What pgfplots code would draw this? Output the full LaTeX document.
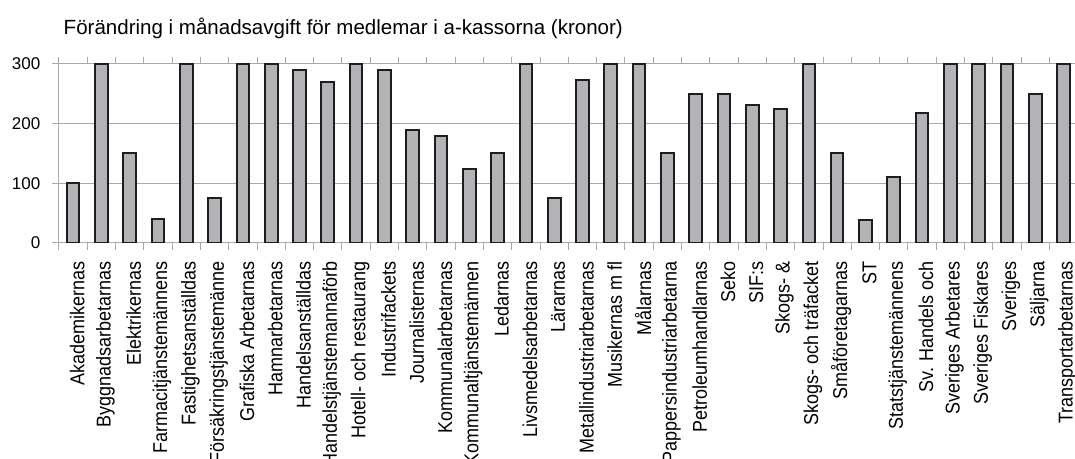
\documentclass[border=0pt]{standalone}
\usepackage{fontspec}
\setmainfont{Liberation Sans}
\newfontfamily\narrowsans[FakeStretch=0.9]{Liberation Sans}
\usepackage{pgfplots}
\pgfplotsset{compat=1.18}
\definecolor{barfill}{RGB}{178,179,183}
\definecolor{baredge}{RGB}{30,30,30}
\definecolor{gridgray}{RGB}{170,170,170}

\pgfplotstableread{
x y
0 100
1 300
2 150
3 40
4 300
5 75
6 300
7 300
8 290
9 270
10 300
11 290
12 189
13 180
14 124
15 150
16 300
17 75
18 274
19 300
20 300
21 150
22 250
23 250
24 231
25 225
26 300
27 150
28 39
29 111
30 218
31 300
32 300
33 300
34 250
35 300
}\avgift

\begin{document}
\begin{tikzpicture}
\begin{axis}[
  at={(0pt,0pt)}, anchor=south west,
  scale only axis, width=764pt, height=134.25pt,
  ymin=0, ymax=300, xmin=-0.5, xmax=35.5,
  ytick={0,100,200,300},
  ymajorgrids,
  grid style={gridgray, line width=0.75pt},
  axis line style={gridgray, line width=0.75pt},
  tick align=outside,
  major tick length=5pt,
  minor tick length=5pt,
  tick style={gridgray, line width=0.75pt},
  major x tick style={draw=none},
  xtick={0,...,35},
  minor xtick={-0.5,0.5,...,35.5},
  xticklabels={Akademikernas, Byggnadsarbetarnas, Elektrikernas,
    Farmacitjänstemännens, Fastighetsanställdas, Försäkringstjänstemänne,
    Grafiska Arbetarnas, Hamnarbetarnas, Handelsanställdas,
    Handelstjänstemannaförb, Hotell- och restaurang, Industrifackets,
    Journalisternas, Kommunalarbetarnas, Kommunaltjänstemännen, Ledarnas,
    Livsmedelsarbetarnas, Lärarnas, Metallindustriarbetarnas,
    Musikernas m fl, Målarnas, Pappersindustriarbetarna,
    Petroleumhandlarnas, Seko, SIF:s, Skogs- \&, Skogs- och träfacket,
    Småföretagarnas, ST, Statstjänstemännens, Sv. Handels och,
    Sveriges Arbetares, Sveriges Fiskares, Sveriges, Säljarna,
    Transportarbetarnas},
  xticklabel style={xshift=3pt, rotate=90, anchor=east,
    font=\narrowsans\fontsize{15}{16}\selectfont},
  xticklabel shift=5pt,
  yticklabel style={xshift=-5.5pt, font=\fontsize{12.75}{15}\selectfont},
  /pgf/number format/assume math mode=true,
  ybar, bar width=9.5pt,
]
\addplot[draw=baredge, fill=barfill, line width=1.5pt] table[x=x, y=y] {\avgift};
\end{axis}
\node[anchor=base west, font=\fontsize{15.4}{18}\selectfont]
  at (0pt,156pt) {Förändring i månadsavgift för medlemar i a-kassorna (kronor)};
\pgfresetboundingbox
\path[use as bounding box] (-44.25pt,-162pt) rectangle (762pt,182.25pt);
\end{tikzpicture}
\end{document}
